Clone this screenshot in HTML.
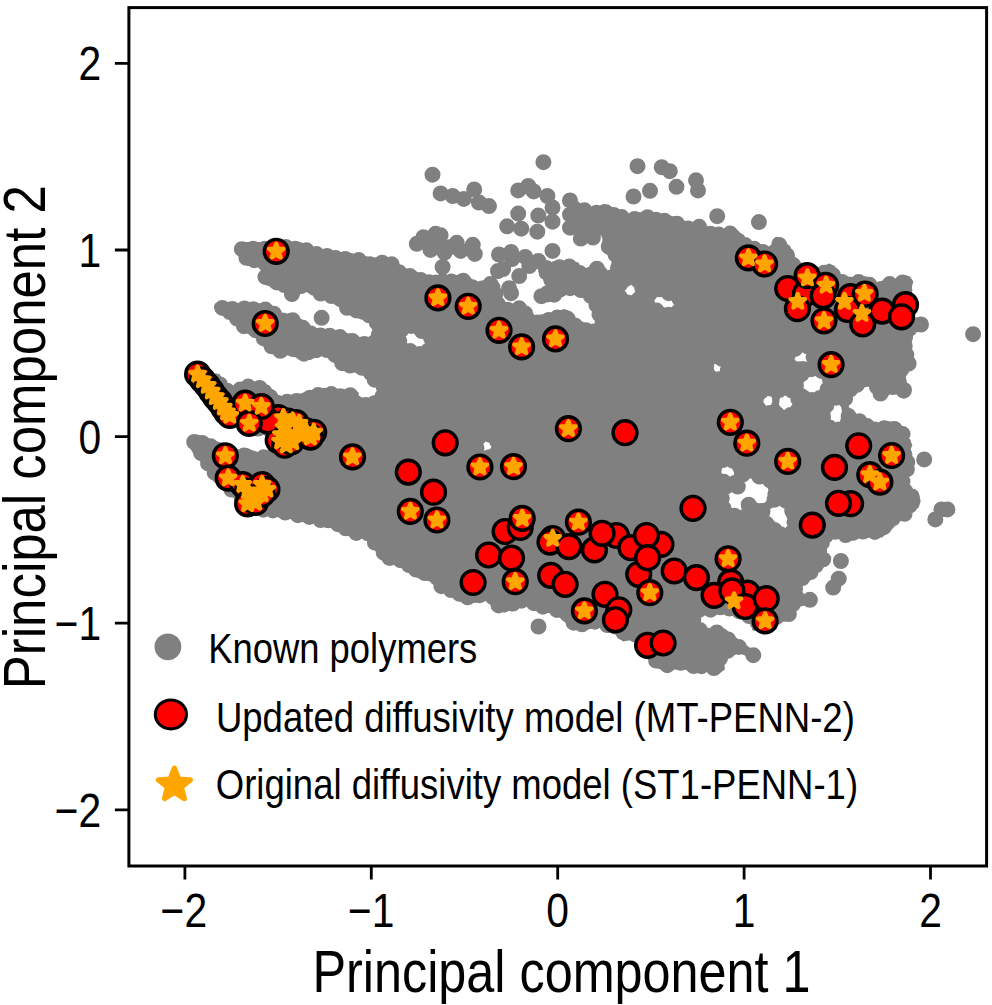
<!DOCTYPE html>
<html lang="en"><head><meta charset="utf-8"><title>Principal component scatter</title>
<style>html,body{margin:0;padding:0;background:#fff}body{width:992px;height:1005px;overflow:hidden}svg{display:block}text{font-family:"Liberation Sans",Arial,sans-serif;fill:#000}</style></head><body>
<svg width="992" height="1005" viewBox="0 0 992 1005">
<rect width="992" height="1005" fill="#fff"/>
<g fill="#808080">
<path fill-rule="evenodd" d="M225.1 382.7 224.2 381.8 219.7 374.3 214.6 373.1 205.4 389.3 205.4 390.7 223.9 415.0 239.5 426.7 251.2 432.5 265.5 434.4 267.9 435.5 271.9 446.1 271.4 449.8 268.6 451.9 262.3 452.2 260.1 453.8 257.7 454.3 253.9 452.8 251.9 450.0 246.8 447.7 240.5 451.2 237.5 451.6 221.5 442.8 198.3 434.8 191.2 437.1 188.5 440.6 188.4 444.2 192.1 451.7 202.1 463.8 212.3 480.0 221.7 489.4 232.0 495.7 240.1 505.7 250.9 512.9 291.3 519.3 331.4 527.3 352.0 537.7 365.3 538.2 367.4 539.8 384.5 564.2 395.5 564.7 408.8 571.4 417.6 577.9 432.2 582.2 434.2 584.3 436.3 591.1 446.4 593.5 457.4 600.1 465.2 604.0 480.2 602.2 486.9 600.7 489.9 603.0 491.8 609.1 504.7 612.8 513.6 608.8 525.8 606.6 534.9 608.9 545.1 612.9 551.0 613.1 563.9 620.0 568.9 628.2 569.8 628.9 583.2 630.8 598.9 626.7 606.3 631.0 616.7 633.2 618.8 635.0 622.4 641.5 632.4 640.0 635.9 641.3 640.6 651.6 649.4 658.7 651.8 666.7 665.3 670.7 683.0 668.7 692.2 672.8 705.3 670.9 718.1 674.6 724.9 669.6 724.3 662.9 725.5 660.1 736.4 653.9 740.0 653.5 749.6 657.5 756.9 655.1 757.2 654.6 756.2 652.0 743.8 643.6 724.7 628.4 715.2 626.7 711.4 629.5 708.5 629.8 707.3 629.4 701.1 624.0 699.3 619.4 700.1 616.1 703.7 613.8 706.1 613.9 710.0 616.6 716.2 613.2 728.0 613.2 741.5 617.7 750.1 623.4 752.0 626.0 752.4 630.2 753.0 630.7 764.1 630.8 767.1 631.5 769.9 629.8 774.6 628.8 776.5 624.4 778.2 622.6 788.9 620.9 794.3 616.5 796.4 609.2 798.1 607.0 808.7 604.4 812.9 600.2 812.9 599.4 809.3 595.7 802.2 594.7 800.3 592.7 799.9 589.5 802.2 584.7 810.4 580.4 815.2 573.7 830.1 562.6 831.4 556.8 826.0 553.6 824.4 550.3 824.9 547.9 827.2 544.2 827.5 541.1 829.0 538.9 831.5 537.8 839.1 537.9 844.2 540.9 851.3 540.0 856.4 537.8 882.1 537.6 893.3 528.0 899.7 519.9 908.5 517.7 912.6 511.8 918.7 507.4 920.7 501.2 919.1 494.7 910.8 489.5 909.0 486.7 909.1 476.6 914.6 468.3 913.1 461.8 909.2 453.2 912.4 445.0 909.1 439.5 906.8 429.7 897.6 422.6 887.2 421.0 878.3 424.4 875.3 424.2 865.6 418.5 853.6 412.5 849.8 408.7 848.7 406.0 851.2 397.0 857.4 392.7 865.0 385.9 867.7 385.9 869.7 387.2 874.6 394.7 882.4 397.8 890.7 392.6 901.1 396.0 907.0 394.7 907.8 394.1 910.1 389.5 910.1 388.1 905.8 382.2 905.1 379.5 907.5 371.2 914.6 367.0 915.2 366.0 915.7 360.5 911.0 352.0 912.1 335.0 914.7 331.8 920.2 331.1 924.3 325.5 921.7 320.6 916.0 319.5 913.4 316.6 914.9 301.6 911.1 289.3 913.4 281.6 910.0 276.4 903.4 274.7 895.4 279.0 887.4 277.6 879.1 282.7 876.5 282.0 869.8 277.2 861.5 275.5 849.8 279.0 839.5 274.8 834.8 265.9 829.3 263.6 828.2 263.7 819.8 268.1 809.6 267.1 799.6 263.0 794.3 256.0 790.1 246.1 783.0 240.7 776.7 236.8 775.7 237.0 772.6 239.5 771.9 245.0 771.3 246.1 769.2 247.8 766.5 248.1 762.3 246.6 754.8 241.2 748.1 241.0 746.1 240.2 739.6 232.1 734.5 227.4 725.4 228.9 711.0 228.8 700.3 222.0 684.7 221.7 675.8 216.7 645.2 210.9 629.7 214.6 617.6 210.6 608.3 204.4 599.7 208.6 582.1 204.8 574.6 198.5 572.6 198.4 572.3 198.9 572.5 227.4 579.2 227.7 582.2 227.0 584.9 227.7 598.2 227.7 601.1 229.2 602.4 231.9 602.4 242.7 604.4 252.2 605.0 253.2 611.0 257.7 611.7 258.8 611.2 268.5 608.3 271.3 605.0 271.1 603.9 270.4 598.7 264.1 598.0 263.7 594.1 263.9 590.8 267.4 586.4 269.7 585.3 269.9 582.2 268.4 578.3 262.6 570.6 260.6 554.2 261.1 549.5 262.5 544.7 260.3 543.8 260.3 539.7 262.5 537.3 267.5 538.5 271.8 546.6 282.9 547.1 286.4 544.4 291.1 537.7 294.4 536.6 297.4 538.4 300.7 544.9 302.7 554.6 301.2 560.8 296.2 566.8 294.8 578.1 294.4 589.4 302.1 593.3 313.0 596.7 320.7 596.5 323.5 594.4 325.9 590.6 326.2 583.8 322.3 576.4 319.3 571.7 312.3 567.9 310.2 564.2 309.1 552.9 312.7 544.7 313.7 534.7 315.8 525.6 310.7 518.9 304.6 511.1 303.5 503.9 303.1 501.1 299.5 501.8 294.4 500.4 288.2 500.3 285.1 497.4 280.8 491.8 278.0 488.9 279.3 483.0 280.2 480.7 282.2 478.0 282.8 475.5 281.9 469.5 276.7 459.1 274.4 450.4 276.2 435.4 274.4 427.8 276.9 415.5 271.1 402.6 268.0 394.5 259.8 382.0 256.8 370.2 257.9 367.3 256.6 351.2 253.1 330.7 251.0 310.6 247.0 300.3 242.0 238.8 242.0 236.8 244.0 237.0 253.0 241.3 261.4 247.9 265.9 257.4 266.7 260.3 268.4 261.2 271.5 260.0 277.5 261.1 283.5 283.1 291.1 285.0 293.3 286.3 297.9 291.0 300.7 297.2 299.2 300.7 293.3 304.5 291.6 310.2 293.4 316.3 297.3 337.7 303.2 339.6 305.0 343.3 311.8 360.1 319.3 368.6 321.0 370.8 322.2 372.2 325.1 372.0 336.3 369.8 339.1 366.7 339.6 350.9 333.7 334.9 330.7 329.0 328.8 314.6 329.4 305.7 321.2 289.6 313.2 288.8 313.0 284.6 314.8 281.5 314.3 277.1 308.8 269.5 303.5 218.9 302.5 216.0 303.0 214.9 303.8 213.8 307.0 215.4 311.7 231.6 319.6 238.2 328.8 256.1 338.4 266.7 350.6 279.2 355.8 291.5 355.2 300.2 360.0 310.5 359.9 319.7 355.5 323.0 355.5 330.7 358.6 339.0 368.4 351.8 372.1 364.3 374.6 368.4 381.8 370.9 383.4 372.7 385.7 376.7 386.9 378.3 390.9 376.9 393.9 372.5 396.5 370.6 398.3 363.2 399.9 360.1 398.6 358.8 396.7 358.7 392.8 354.4 388.8 341.3 389.6 323.7 387.7 315.7 390.5 303.6 392.6 291.6 396.5 279.7 396.6 276.6 395.1 269.3 385.3 256.5 381.6 245.1 380.7 232.8 386.2ZM832.2 423.5 829.7 421.7 828.9 418.9 832.1 407.0 834.5 404.1 838.1 403.8 841.2 407.0 843.3 420.4 841.4 422.9 837.5 424.6ZM804.6 391.3 802.8 389.2 802.5 386.8 804.0 380.6 805.9 378.2 816.1 374.4 818.6 375.2 823.4 379.0 823.8 382.8 820.7 390.4 819.1 392.2 810.5 394.4ZM798.1 364.2 795.4 363.6 793.5 361.6 792.9 359.1 793.8 356.4 801.4 352.1 803.9 352.0 805.7 352.8 808.4 358.1 807.6 361.8 804.7 363.6ZM784.2 411.1 781.4 409.2 779.0 404.3 779.8 398.2 781.5 395.7 784.4 395.0 790.1 396.3 792.1 398.1 793.9 404.5 792.6 408.1 791.6 409.0 785.3 411.1ZM774.8 521.5 769.5 519.1 768.6 518.2 767.8 516.0 767.9 512.2 769.1 509.8 770.0 509.0 777.2 505.6 784.1 506.9 785.8 508.5 786.5 510.4 785.8 515.5 789.2 522.6 788.8 526.2 786.2 528.5 783.6 529.2 781.1 528.9ZM762.2 404.3 760.7 400.8 762.2 397.3 766.8 394.7 769.0 394.9 771.1 396.3 772.1 398.6 772.2 402.5 770.5 405.6 768.2 406.7 765.5 406.6ZM727.5 496.8 727.9 494.0 729.6 492.1 737.8 489.2 743.7 480.0 749.8 477.4 753.5 478.2 758.7 483.0 767.9 485.0 769.6 486.1 770.7 488.4 770.4 494.4 766.0 501.5 764.0 503.1 755.4 503.3 754.3 502.6 750.6 498.2 746.8 499.3 745.1 502.1 746.8 506.3 746.9 507.7 745.6 510.4 742.8 512.1 740.0 511.7 736.2 509.3 732.1 508.6 730.2 507.4 729.0 505.2ZM722.4 476.5 719.9 474.6 719.2 471.2 719.6 470.2 723.2 466.0 725.6 464.9 729.3 464.8 732.5 466.4 733.1 467.6 734.1 473.7 732.5 477.2 728.8 478.3ZM712.2 371.0 711.7 366.5 713.5 363.4 714.6 362.9 718.1 362.9 720.2 364.7 721.5 367.5 721.5 370.8 720.9 371.8 718.5 373.6 714.7 373.4ZM654.5 302.2 653.1 299.4 653.6 296.5 655.7 294.6 658.6 294.2 673.0 300.4 674.9 302.6 675.2 305.3 672.9 308.5 669.5 309.2 658.1 305.4ZM630.2 295.9 627.4 295.8 625.5 294.5 624.5 290.3 626.9 285.6 629.3 283.8 632.3 283.5 635.5 285.7 636.1 289.3 633.9 294.5ZM492.6 446.5 489.1 451.7 487.8 452.6 485.4 452.8 483.4 451.8 481.7 449.1 483.2 442.8 486.4 440.4 490.1 440.9 491.0 441.5 492.7 444.0ZM405.9 341.8 404.2 336.8 404.2 335.6 405.7 333.1 409.5 331.6 411.9 332.0 420.4 337.6 424.1 338.7 425.7 340.9 426.0 342.0 425.6 344.9 423.6 347.2 419.0 349.0 416.9 348.8 409.4 345.9Z"/>
<path d="M313.6 317.8a8 8 0 1 0 16 0a8 8 0 1 0 -16 0ZM535.4 162.2a8 8 0 1 0 16 0a8 8 0 1 0 -16 0ZM424.5 174.7a8 8 0 1 0 16 0a8 8 0 1 0 -16 0ZM432.6 193.4a8 8 0 1 0 16 0a8 8 0 1 0 -16 0ZM444.7 196.0a8 8 0 1 0 16 0a8 8 0 1 0 -16 0ZM455.8 198.9a8 8 0 1 0 16 0a8 8 0 1 0 -16 0ZM466.2 189.4a8 8 0 1 0 16 0a8 8 0 1 0 -16 0ZM470.9 202.5a8 8 0 1 0 16 0a8 8 0 1 0 -16 0ZM481.0 206.1a8 8 0 1 0 16 0a8 8 0 1 0 -16 0ZM510.2 190.4a8 8 0 1 0 16 0a8 8 0 1 0 -16 0ZM520.3 186.0a8 8 0 1 0 16 0a8 8 0 1 0 -16 0ZM525.7 191.4a8 8 0 1 0 16 0a8 8 0 1 0 -16 0ZM539.4 196.0a8 8 0 1 0 16 0a8 8 0 1 0 -16 0ZM544.5 207.5a8 8 0 1 0 16 0a8 8 0 1 0 -16 0ZM510.2 213.6a8 8 0 1 0 16 0a8 8 0 1 0 -16 0ZM530.3 215.6a8 8 0 1 0 16 0a8 8 0 1 0 -16 0ZM544.5 221.7a8 8 0 1 0 16 0a8 8 0 1 0 -16 0ZM499.1 226.3a8 8 0 1 0 16 0a8 8 0 1 0 -16 0ZM513.2 228.7a8 8 0 1 0 16 0a8 8 0 1 0 -16 0ZM529.3 231.7a8 8 0 1 0 16 0a8 8 0 1 0 -16 0ZM562.0 200.5a8 8 0 1 0 16 0a8 8 0 1 0 -16 0ZM562.0 214.6a8 8 0 1 0 16 0a8 8 0 1 0 -16 0ZM562.0 227.7a8 8 0 1 0 16 0a8 8 0 1 0 -16 0ZM408.8 243.8a8 8 0 1 0 16 0a8 8 0 1 0 -16 0ZM415.4 237.2a8 8 0 1 0 16 0a8 8 0 1 0 -16 0ZM427.5 233.8a8 8 0 1 0 16 0a8 8 0 1 0 -16 0ZM432.6 235.2a8 8 0 1 0 16 0a8 8 0 1 0 -16 0ZM422.5 249.9a8 8 0 1 0 16 0a8 8 0 1 0 -16 0ZM436.6 252.5a8 8 0 1 0 16 0a8 8 0 1 0 -16 0ZM448.7 242.8a8 8 0 1 0 16 0a8 8 0 1 0 -16 0ZM452.7 250.9a8 8 0 1 0 16 0a8 8 0 1 0 -16 0ZM464.8 244.8a8 8 0 1 0 16 0a8 8 0 1 0 -16 0ZM466.8 253.9a8 8 0 1 0 16 0a8 8 0 1 0 -16 0ZM434.6 267.0a8 8 0 1 0 16 0a8 8 0 1 0 -16 0ZM422.5 241.8a8 8 0 1 0 16 0a8 8 0 1 0 -16 0ZM442.6 246.9a8 8 0 1 0 16 0a8 8 0 1 0 -16 0ZM431.6 243.8a8 8 0 1 0 16 0a8 8 0 1 0 -16 0ZM491.0 254.5a8 8 0 1 0 16 0a8 8 0 1 0 -16 0ZM503.1 251.9a8 8 0 1 0 16 0a8 8 0 1 0 -16 0ZM504.1 259.0a8 8 0 1 0 16 0a8 8 0 1 0 -16 0ZM517.2 256.9a8 8 0 1 0 16 0a8 8 0 1 0 -16 0ZM530.3 261.0a8 8 0 1 0 16 0a8 8 0 1 0 -16 0ZM544.5 250.9a8 8 0 1 0 16 0a8 8 0 1 0 -16 0ZM490.0 271.0a8 8 0 1 0 16 0a8 8 0 1 0 -16 0ZM495.1 269.0a8 8 0 1 0 16 0a8 8 0 1 0 -16 0ZM511.2 276.1a8 8 0 1 0 16 0a8 8 0 1 0 -16 0ZM521.3 266.0a8 8 0 1 0 16 0a8 8 0 1 0 -16 0ZM501.1 288.2a8 8 0 1 0 16 0a8 8 0 1 0 -16 0ZM503.1 293.2a8 8 0 1 0 16 0a8 8 0 1 0 -16 0ZM533.4 296.2a8 8 0 1 0 16 0a8 8 0 1 0 -16 0ZM539.4 293.2a8 8 0 1 0 16 0a8 8 0 1 0 -16 0ZM511.2 308.3a8 8 0 1 0 16 0a8 8 0 1 0 -16 0ZM517.2 313.4a8 8 0 1 0 16 0a8 8 0 1 0 -16 0ZM629.5 166.2a8 8 0 1 0 16 0a8 8 0 1 0 -16 0ZM653.7 167.2a8 8 0 1 0 16 0a8 8 0 1 0 -16 0ZM661.8 171.2a8 8 0 1 0 16 0a8 8 0 1 0 -16 0ZM688.0 180.3a8 8 0 1 0 16 0a8 8 0 1 0 -16 0ZM690.0 190.4a8 8 0 1 0 16 0a8 8 0 1 0 -16 0ZM668.5 186.8a8 8 0 1 0 16 0a8 8 0 1 0 -16 0ZM642.0 190.8a8 8 0 1 0 16 0a8 8 0 1 0 -16 0ZM625.5 196.5a8 8 0 1 0 16 0a8 8 0 1 0 -16 0ZM709.2 216.2a8 8 0 1 0 16 0a8 8 0 1 0 -16 0ZM750.9 222.1a8 8 0 1 0 16 0a8 8 0 1 0 -16 0ZM965.1 334.2a8 8 0 1 0 16 0a8 8 0 1 0 -16 0ZM913.0 324.5a8 8 0 1 0 16 0a8 8 0 1 0 -16 0ZM872.5 393.5a8 8 0 1 0 16 0a8 8 0 1 0 -16 0ZM896.0 390.0a8 8 0 1 0 16 0a8 8 0 1 0 -16 0ZM916.2 459.4a8 8 0 1 0 16 0a8 8 0 1 0 -16 0ZM933.4 509.4a8 8 0 1 0 16 0a8 8 0 1 0 -16 0ZM939.4 509.4a8 8 0 1 0 16 0a8 8 0 1 0 -16 0ZM927.3 519.4a8 8 0 1 0 16 0a8 8 0 1 0 -16 0ZM530.5 626.5a8 8 0 1 0 16 0a8 8 0 1 0 -16 0ZM832.9 561.0a8 8 0 1 0 16 0a8 8 0 1 0 -16 0ZM830.7 578.7a8 8 0 1 0 16 0a8 8 0 1 0 -16 0ZM825.2 587.6a8 8 0 1 0 16 0a8 8 0 1 0 -16 0ZM745.3 655.2a8 8 0 1 0 16 0a8 8 0 1 0 -16 0ZM801.9 599.8a8 8 0 1 0 16 0a8 8 0 1 0 -16 0ZM588.9 268.7a8 8 0 1 0 16 0a8 8 0 1 0 -16 0ZM576.8 232.8a8 8 0 1 0 16 0a8 8 0 1 0 -16 0ZM586.9 230.4a8 8 0 1 0 16 0a8 8 0 1 0 -16 0ZM567.8 225.4a8 8 0 1 0 16 0a8 8 0 1 0 -16 0ZM581.9 220.3a8 8 0 1 0 16 0a8 8 0 1 0 -16 0ZM572.8 238.5a8 8 0 1 0 16 0a8 8 0 1 0 -16 0ZM584.9 237.5a8 8 0 1 0 16 0a8 8 0 1 0 -16 0ZM740.7 504.7a8 8 0 1 0 16 0a8 8 0 1 0 -16 0ZM729.8 486.6a8 8 0 1 0 16 0a8 8 0 1 0 -16 0ZM784.2 510.8a8 8 0 1 0 16 0a8 8 0 1 0 -16 0ZM204.3 391.4a8 8 0 1 0 16 0a8 8 0 1 0 -16 0ZM210.5 397.9a8 8 0 1 0 16 0a8 8 0 1 0 -16 0ZM215.8 404.2a8 8 0 1 0 16 0a8 8 0 1 0 -16 0ZM222.0 412.1a8 8 0 1 0 16 0a8 8 0 1 0 -16 0ZM232.0 418.6a8 8 0 1 0 16 0a8 8 0 1 0 -16 0ZM239.9 425.1a8 8 0 1 0 16 0a8 8 0 1 0 -16 0ZM250.1 428.6a8 8 0 1 0 16 0a8 8 0 1 0 -16 0ZM259.7 428.4a8 8 0 1 0 16 0a8 8 0 1 0 -16 0ZM265.2 433.9a8 8 0 1 0 16 0a8 8 0 1 0 -16 0ZM269.2 446.4a8 8 0 1 0 16 0a8 8 0 1 0 -16 0ZM264.6 456.2a8 8 0 1 0 16 0a8 8 0 1 0 -16 0ZM255.6 457.3a8 8 0 1 0 16 0a8 8 0 1 0 -16 0ZM245.1 458.6a8 8 0 1 0 16 0a8 8 0 1 0 -16 0ZM236.0 455.5a8 8 0 1 0 16 0a8 8 0 1 0 -16 0ZM224.7 454.9a8 8 0 1 0 16 0a8 8 0 1 0 -16 0ZM214.4 450.7a8 8 0 1 0 16 0a8 8 0 1 0 -16 0ZM202.7 446.3a8 8 0 1 0 16 0a8 8 0 1 0 -16 0ZM194.3 442.9a8 8 0 1 0 16 0a8 8 0 1 0 -16 0ZM186.2 442.0a8 8 0 1 0 16 0a8 8 0 1 0 -16 0ZM193.1 453.0a8 8 0 1 0 16 0a8 8 0 1 0 -16 0ZM200.1 463.4a8 8 0 1 0 16 0a8 8 0 1 0 -16 0ZM206.7 472.6a8 8 0 1 0 16 0a8 8 0 1 0 -16 0ZM215.7 482.2a8 8 0 1 0 16 0a8 8 0 1 0 -16 0ZM223.5 489.5a8 8 0 1 0 16 0a8 8 0 1 0 -16 0ZM233.7 497.8a8 8 0 1 0 16 0a8 8 0 1 0 -16 0ZM239.6 504.2a8 8 0 1 0 16 0a8 8 0 1 0 -16 0ZM247.3 507.1a8 8 0 1 0 16 0a8 8 0 1 0 -16 0ZM255.4 509.7a8 8 0 1 0 16 0a8 8 0 1 0 -16 0ZM264.9 510.4a8 8 0 1 0 16 0a8 8 0 1 0 -16 0ZM277.2 512.5a8 8 0 1 0 16 0a8 8 0 1 0 -16 0ZM289.9 515.2a8 8 0 1 0 16 0a8 8 0 1 0 -16 0ZM301.3 516.9a8 8 0 1 0 16 0a8 8 0 1 0 -16 0ZM312.6 520.0a8 8 0 1 0 16 0a8 8 0 1 0 -16 0ZM320.2 520.3a8 8 0 1 0 16 0a8 8 0 1 0 -16 0ZM329.9 524.2a8 8 0 1 0 16 0a8 8 0 1 0 -16 0ZM337.7 528.3a8 8 0 1 0 16 0a8 8 0 1 0 -16 0ZM348.3 532.9a8 8 0 1 0 16 0a8 8 0 1 0 -16 0ZM360.0 533.3a8 8 0 1 0 16 0a8 8 0 1 0 -16 0ZM366.9 542.6a8 8 0 1 0 16 0a8 8 0 1 0 -16 0ZM375.7 552.5a8 8 0 1 0 16 0a8 8 0 1 0 -16 0ZM381.8 557.9a8 8 0 1 0 16 0a8 8 0 1 0 -16 0ZM392.3 560.2a8 8 0 1 0 16 0a8 8 0 1 0 -16 0ZM401.0 565.0a8 8 0 1 0 16 0a8 8 0 1 0 -16 0ZM408.0 569.5a8 8 0 1 0 16 0a8 8 0 1 0 -16 0ZM416.7 573.0a8 8 0 1 0 16 0a8 8 0 1 0 -16 0ZM429.1 577.8a8 8 0 1 0 16 0a8 8 0 1 0 -16 0ZM433.4 586.2a8 8 0 1 0 16 0a8 8 0 1 0 -16 0ZM443.1 590.1a8 8 0 1 0 16 0a8 8 0 1 0 -16 0ZM451.6 593.8a8 8 0 1 0 16 0a8 8 0 1 0 -16 0ZM459.6 597.3a8 8 0 1 0 16 0a8 8 0 1 0 -16 0ZM471.7 595.2a8 8 0 1 0 16 0a8 8 0 1 0 -16 0ZM484.8 597.0a8 8 0 1 0 16 0a8 8 0 1 0 -16 0ZM490.7 605.4a8 8 0 1 0 16 0a8 8 0 1 0 -16 0ZM504.9 603.6a8 8 0 1 0 16 0a8 8 0 1 0 -16 0ZM513.5 600.7a8 8 0 1 0 16 0a8 8 0 1 0 -16 0ZM525.9 603.2a8 8 0 1 0 16 0a8 8 0 1 0 -16 0ZM534.9 606.7a8 8 0 1 0 16 0a8 8 0 1 0 -16 0ZM548.9 609.9a8 8 0 1 0 16 0a8 8 0 1 0 -16 0ZM559.7 614.7a8 8 0 1 0 16 0a8 8 0 1 0 -16 0ZM565.6 622.7a8 8 0 1 0 16 0a8 8 0 1 0 -16 0ZM574.0 624.3a8 8 0 1 0 16 0a8 8 0 1 0 -16 0ZM586.9 621.7a8 8 0 1 0 16 0a8 8 0 1 0 -16 0ZM599.2 625.0a8 8 0 1 0 16 0a8 8 0 1 0 -16 0ZM607.5 626.5a8 8 0 1 0 16 0a8 8 0 1 0 -16 0ZM615.2 632.3a8 8 0 1 0 16 0a8 8 0 1 0 -16 0ZM627.4 634.5a8 8 0 1 0 16 0a8 8 0 1 0 -16 0ZM635.4 641.3a8 8 0 1 0 16 0a8 8 0 1 0 -16 0ZM642.5 651.9a8 8 0 1 0 16 0a8 8 0 1 0 -16 0ZM648.1 660.6a8 8 0 1 0 16 0a8 8 0 1 0 -16 0ZM659.3 665.2a8 8 0 1 0 16 0a8 8 0 1 0 -16 0ZM672.7 662.8a8 8 0 1 0 16 0a8 8 0 1 0 -16 0ZM685.7 666.1a8 8 0 1 0 16 0a8 8 0 1 0 -16 0ZM693.6 666.2a8 8 0 1 0 16 0a8 8 0 1 0 -16 0ZM705.8 668.1a8 8 0 1 0 16 0a8 8 0 1 0 -16 0ZM712.1 658.3a8 8 0 1 0 16 0a8 8 0 1 0 -16 0ZM719.6 650.8a8 8 0 1 0 16 0a8 8 0 1 0 -16 0ZM730.8 646.9a8 8 0 1 0 16 0a8 8 0 1 0 -16 0ZM720.1 639.4a8 8 0 1 0 16 0a8 8 0 1 0 -16 0ZM708.8 632.5a8 8 0 1 0 16 0a8 8 0 1 0 -16 0ZM699.7 635.7a8 8 0 1 0 16 0a8 8 0 1 0 -16 0ZM691.7 630.0a8 8 0 1 0 16 0a8 8 0 1 0 -16 0ZM685.3 619.7a8 8 0 1 0 16 0a8 8 0 1 0 -16 0ZM691.2 609.9a8 8 0 1 0 16 0a8 8 0 1 0 -16 0ZM702.6 609.7a8 8 0 1 0 16 0a8 8 0 1 0 -16 0ZM712.2 607.3a8 8 0 1 0 16 0a8 8 0 1 0 -16 0ZM721.5 608.5a8 8 0 1 0 16 0a8 8 0 1 0 -16 0ZM731.4 611.4a8 8 0 1 0 16 0a8 8 0 1 0 -16 0ZM741.1 616.0a8 8 0 1 0 16 0a8 8 0 1 0 -16 0ZM749.9 622.9a8 8 0 1 0 16 0a8 8 0 1 0 -16 0ZM759.0 624.1a8 8 0 1 0 16 0a8 8 0 1 0 -16 0ZM768.4 617.1a8 8 0 1 0 16 0a8 8 0 1 0 -16 0ZM780.9 614.0a8 8 0 1 0 16 0a8 8 0 1 0 -16 0ZM785.0 604.0a8 8 0 1 0 16 0a8 8 0 1 0 -16 0ZM789.5 598.4a8 8 0 1 0 16 0a8 8 0 1 0 -16 0ZM787.1 589.0a8 8 0 1 0 16 0a8 8 0 1 0 -16 0ZM794.3 578.1a8 8 0 1 0 16 0a8 8 0 1 0 -16 0ZM802.6 572.0a8 8 0 1 0 16 0a8 8 0 1 0 -16 0ZM807.9 565.3a8 8 0 1 0 16 0a8 8 0 1 0 -16 0ZM815.2 559.3a8 8 0 1 0 16 0a8 8 0 1 0 -16 0ZM811.2 551.8a8 8 0 1 0 16 0a8 8 0 1 0 -16 0ZM813.9 542.7a8 8 0 1 0 16 0a8 8 0 1 0 -16 0ZM818.1 535.3a8 8 0 1 0 16 0a8 8 0 1 0 -16 0ZM827.3 531.8a8 8 0 1 0 16 0a8 8 0 1 0 -16 0ZM837.7 535.1a8 8 0 1 0 16 0a8 8 0 1 0 -16 0ZM845.4 532.7a8 8 0 1 0 16 0a8 8 0 1 0 -16 0ZM855.0 531.6a8 8 0 1 0 16 0a8 8 0 1 0 -16 0ZM866.8 531.9a8 8 0 1 0 16 0a8 8 0 1 0 -16 0ZM875.9 527.2a8 8 0 1 0 16 0a8 8 0 1 0 -16 0ZM884.9 518.3a8 8 0 1 0 16 0a8 8 0 1 0 -16 0ZM896.6 513.8a8 8 0 1 0 16 0a8 8 0 1 0 -16 0ZM901.6 505.5a8 8 0 1 0 16 0a8 8 0 1 0 -16 0ZM903.7 496.5a8 8 0 1 0 16 0a8 8 0 1 0 -16 0ZM897.1 491.0a8 8 0 1 0 16 0a8 8 0 1 0 -16 0ZM894.5 481.6a8 8 0 1 0 16 0a8 8 0 1 0 -16 0ZM898.8 469.4a8 8 0 1 0 16 0a8 8 0 1 0 -16 0ZM899.3 462.2a8 8 0 1 0 16 0a8 8 0 1 0 -16 0ZM896.4 454.5a8 8 0 1 0 16 0a8 8 0 1 0 -16 0ZM895.4 443.4a8 8 0 1 0 16 0a8 8 0 1 0 -16 0ZM894.6 434.1a8 8 0 1 0 16 0a8 8 0 1 0 -16 0ZM886.5 428.9a8 8 0 1 0 16 0a8 8 0 1 0 -16 0ZM876.1 428.2a8 8 0 1 0 16 0a8 8 0 1 0 -16 0ZM866.7 429.5a8 8 0 1 0 16 0a8 8 0 1 0 -16 0ZM859.1 426.1a8 8 0 1 0 16 0a8 8 0 1 0 -16 0ZM851.4 421.2a8 8 0 1 0 16 0a8 8 0 1 0 -16 0ZM840.6 416.1a8 8 0 1 0 16 0a8 8 0 1 0 -16 0ZM839.9 422.2a8 8 0 1 0 16 0a8 8 0 1 0 -16 0ZM831.1 429.6a8 8 0 1 0 16 0a8 8 0 1 0 -16 0ZM821.4 427.4a8 8 0 1 0 16 0a8 8 0 1 0 -16 0ZM815.0 417.6a8 8 0 1 0 16 0a8 8 0 1 0 -16 0ZM818.3 405.4a8 8 0 1 0 16 0a8 8 0 1 0 -16 0ZM828.1 397.7a8 8 0 1 0 16 0a8 8 0 1 0 -16 0ZM837.1 398.6a8 8 0 1 0 16 0a8 8 0 1 0 -16 0ZM842.4 389.3a8 8 0 1 0 16 0a8 8 0 1 0 -16 0ZM848.9 384.9a8 8 0 1 0 16 0a8 8 0 1 0 -16 0ZM857.4 379.2a8 8 0 1 0 16 0a8 8 0 1 0 -16 0ZM868.9 386.8a8 8 0 1 0 16 0a8 8 0 1 0 -16 0ZM875.1 389.8a8 8 0 1 0 16 0a8 8 0 1 0 -16 0ZM884.8 387.1a8 8 0 1 0 16 0a8 8 0 1 0 -16 0ZM895.7 390.7a8 8 0 1 0 16 0a8 8 0 1 0 -16 0ZM890.8 381.3a8 8 0 1 0 16 0a8 8 0 1 0 -16 0ZM893.2 369.6a8 8 0 1 0 16 0a8 8 0 1 0 -16 0ZM900.6 363.7a8 8 0 1 0 16 0a8 8 0 1 0 -16 0ZM898.3 354.7a8 8 0 1 0 16 0a8 8 0 1 0 -16 0ZM896.7 345.9a8 8 0 1 0 16 0a8 8 0 1 0 -16 0ZM897.1 337.0a8 8 0 1 0 16 0a8 8 0 1 0 -16 0ZM901.7 328.7a8 8 0 1 0 16 0a8 8 0 1 0 -16 0ZM905.7 325.1a8 8 0 1 0 16 0a8 8 0 1 0 -16 0ZM899.5 313.7a8 8 0 1 0 16 0a8 8 0 1 0 -16 0ZM899.8 301.2a8 8 0 1 0 16 0a8 8 0 1 0 -16 0ZM896.4 290.2a8 8 0 1 0 16 0a8 8 0 1 0 -16 0ZM894.5 282.4a8 8 0 1 0 16 0a8 8 0 1 0 -16 0ZM881.7 284.1a8 8 0 1 0 16 0a8 8 0 1 0 -16 0ZM873.4 288.9a8 8 0 1 0 16 0a8 8 0 1 0 -16 0ZM861.5 284.8a8 8 0 1 0 16 0a8 8 0 1 0 -16 0ZM850.6 282.1a8 8 0 1 0 16 0a8 8 0 1 0 -16 0ZM841.2 284.6a8 8 0 1 0 16 0a8 8 0 1 0 -16 0ZM834.1 282.0a8 8 0 1 0 16 0a8 8 0 1 0 -16 0ZM825.0 275.2a8 8 0 1 0 16 0a8 8 0 1 0 -16 0ZM816.2 272.7a8 8 0 1 0 16 0a8 8 0 1 0 -16 0ZM805.4 273.4a8 8 0 1 0 16 0a8 8 0 1 0 -16 0ZM793.2 270.8a8 8 0 1 0 16 0a8 8 0 1 0 -16 0ZM785.1 264.9a8 8 0 1 0 16 0a8 8 0 1 0 -16 0ZM779.0 255.5a8 8 0 1 0 16 0a8 8 0 1 0 -16 0ZM771.2 245.0a8 8 0 1 0 16 0a8 8 0 1 0 -16 0ZM765.9 252.5a8 8 0 1 0 16 0a8 8 0 1 0 -16 0ZM754.8 252.0a8 8 0 1 0 16 0a8 8 0 1 0 -16 0ZM746.1 248.7a8 8 0 1 0 16 0a8 8 0 1 0 -16 0ZM737.2 245.1a8 8 0 1 0 16 0a8 8 0 1 0 -16 0ZM730.2 240.7a8 8 0 1 0 16 0a8 8 0 1 0 -16 0ZM722.1 233.6a8 8 0 1 0 16 0a8 8 0 1 0 -16 0ZM710.7 234.6a8 8 0 1 0 16 0a8 8 0 1 0 -16 0ZM702.5 233.8a8 8 0 1 0 16 0a8 8 0 1 0 -16 0ZM691.1 226.8a8 8 0 1 0 16 0a8 8 0 1 0 -16 0ZM680.0 228.6a8 8 0 1 0 16 0a8 8 0 1 0 -16 0ZM669.0 223.7a8 8 0 1 0 16 0a8 8 0 1 0 -16 0ZM656.4 220.7a8 8 0 1 0 16 0a8 8 0 1 0 -16 0ZM647.9 219.7a8 8 0 1 0 16 0a8 8 0 1 0 -16 0ZM639.5 217.2a8 8 0 1 0 16 0a8 8 0 1 0 -16 0ZM626.7 219.0a8 8 0 1 0 16 0a8 8 0 1 0 -16 0ZM613.7 217.1a8 8 0 1 0 16 0a8 8 0 1 0 -16 0ZM605.8 215.0a8 8 0 1 0 16 0a8 8 0 1 0 -16 0ZM596.7 212.1a8 8 0 1 0 16 0a8 8 0 1 0 -16 0ZM588.5 212.7a8 8 0 1 0 16 0a8 8 0 1 0 -16 0ZM576.5 210.3a8 8 0 1 0 16 0a8 8 0 1 0 -16 0ZM570.6 217.1a8 8 0 1 0 16 0a8 8 0 1 0 -16 0ZM574.3 221.0a8 8 0 1 0 16 0a8 8 0 1 0 -16 0ZM588.1 221.6a8 8 0 1 0 16 0a8 8 0 1 0 -16 0ZM597.1 224.6a8 8 0 1 0 16 0a8 8 0 1 0 -16 0ZM600.9 233.4a8 8 0 1 0 16 0a8 8 0 1 0 -16 0ZM600.7 246.5a8 8 0 1 0 16 0a8 8 0 1 0 -16 0ZM607.6 254.6a8 8 0 1 0 16 0a8 8 0 1 0 -16 0ZM609.9 268.5a8 8 0 1 0 16 0a8 8 0 1 0 -16 0ZM603.2 277.6a8 8 0 1 0 16 0a8 8 0 1 0 -16 0ZM592.3 273.7a8 8 0 1 0 16 0a8 8 0 1 0 -16 0ZM582.9 274.4a8 8 0 1 0 16 0a8 8 0 1 0 -16 0ZM571.5 273.0a8 8 0 1 0 16 0a8 8 0 1 0 -16 0ZM561.2 266.4a8 8 0 1 0 16 0a8 8 0 1 0 -16 0ZM551.4 267.2a8 8 0 1 0 16 0a8 8 0 1 0 -16 0ZM538.2 268.0a8 8 0 1 0 16 0a8 8 0 1 0 -16 0ZM538.6 272.6a8 8 0 1 0 16 0a8 8 0 1 0 -16 0ZM543.2 279.8a8 8 0 1 0 16 0a8 8 0 1 0 -16 0ZM542.3 292.1a8 8 0 1 0 16 0a8 8 0 1 0 -16 0ZM546.2 294.7a8 8 0 1 0 16 0a8 8 0 1 0 -16 0ZM552.4 289.4a8 8 0 1 0 16 0a8 8 0 1 0 -16 0ZM562.3 288.2a8 8 0 1 0 16 0a8 8 0 1 0 -16 0ZM572.9 290.0a8 8 0 1 0 16 0a8 8 0 1 0 -16 0ZM582.8 295.8a8 8 0 1 0 16 0a8 8 0 1 0 -16 0ZM588.4 304.8a8 8 0 1 0 16 0a8 8 0 1 0 -16 0ZM591.4 314.3a8 8 0 1 0 16 0a8 8 0 1 0 -16 0ZM594.6 322.2a8 8 0 1 0 16 0a8 8 0 1 0 -16 0ZM587.0 331.2a8 8 0 1 0 16 0a8 8 0 1 0 -16 0ZM578.0 330.3a8 8 0 1 0 16 0a8 8 0 1 0 -16 0ZM567.0 325.4a8 8 0 1 0 16 0a8 8 0 1 0 -16 0ZM559.7 318.8a8 8 0 1 0 16 0a8 8 0 1 0 -16 0ZM549.3 317.5a8 8 0 1 0 16 0a8 8 0 1 0 -16 0ZM540.8 319.9a8 8 0 1 0 16 0a8 8 0 1 0 -16 0ZM529.4 322.4a8 8 0 1 0 16 0a8 8 0 1 0 -16 0ZM518.9 318.0a8 8 0 1 0 16 0a8 8 0 1 0 -16 0ZM511.0 313.1a8 8 0 1 0 16 0a8 8 0 1 0 -16 0ZM499.7 309.7a8 8 0 1 0 16 0a8 8 0 1 0 -16 0ZM490.1 304.3a8 8 0 1 0 16 0a8 8 0 1 0 -16 0ZM487.2 294.5a8 8 0 1 0 16 0a8 8 0 1 0 -16 0ZM482.4 284.1a8 8 0 1 0 16 0a8 8 0 1 0 -16 0ZM474.0 288.4a8 8 0 1 0 16 0a8 8 0 1 0 -16 0ZM464.2 287.2a8 8 0 1 0 16 0a8 8 0 1 0 -16 0ZM455.3 280.8a8 8 0 1 0 16 0a8 8 0 1 0 -16 0ZM443.3 281.4a8 8 0 1 0 16 0a8 8 0 1 0 -16 0ZM434.5 281.3a8 8 0 1 0 16 0a8 8 0 1 0 -16 0ZM421.0 282.2a8 8 0 1 0 16 0a8 8 0 1 0 -16 0ZM412.9 280.1a8 8 0 1 0 16 0a8 8 0 1 0 -16 0ZM401.8 275.9a8 8 0 1 0 16 0a8 8 0 1 0 -16 0ZM391.2 272.3a8 8 0 1 0 16 0a8 8 0 1 0 -16 0ZM383.7 264.3a8 8 0 1 0 16 0a8 8 0 1 0 -16 0ZM374.1 262.7a8 8 0 1 0 16 0a8 8 0 1 0 -16 0ZM361.9 264.3a8 8 0 1 0 16 0a8 8 0 1 0 -16 0ZM350.8 260.1a8 8 0 1 0 16 0a8 8 0 1 0 -16 0ZM337.3 259.0a8 8 0 1 0 16 0a8 8 0 1 0 -16 0ZM327.5 257.9a8 8 0 1 0 16 0a8 8 0 1 0 -16 0ZM319.1 256.0a8 8 0 1 0 16 0a8 8 0 1 0 -16 0ZM308.4 254.0a8 8 0 1 0 16 0a8 8 0 1 0 -16 0ZM298.5 250.3a8 8 0 1 0 16 0a8 8 0 1 0 -16 0ZM287.3 248.8a8 8 0 1 0 16 0a8 8 0 1 0 -16 0ZM277.8 247.0a8 8 0 1 0 16 0a8 8 0 1 0 -16 0ZM269.0 248.6a8 8 0 1 0 16 0a8 8 0 1 0 -16 0ZM257.0 248.7a8 8 0 1 0 16 0a8 8 0 1 0 -16 0ZM245.3 248.7a8 8 0 1 0 16 0a8 8 0 1 0 -16 0ZM233.8 249.2a8 8 0 1 0 16 0a8 8 0 1 0 -16 0ZM238.4 257.8a8 8 0 1 0 16 0a8 8 0 1 0 -16 0ZM246.3 260.2a8 8 0 1 0 16 0a8 8 0 1 0 -16 0ZM257.4 263.7a8 8 0 1 0 16 0a8 8 0 1 0 -16 0ZM257.4 276.8a8 8 0 1 0 16 0a8 8 0 1 0 -16 0ZM268.7 282.4a8 8 0 1 0 16 0a8 8 0 1 0 -16 0ZM276.3 285.1a8 8 0 1 0 16 0a8 8 0 1 0 -16 0ZM283.9 294.1a8 8 0 1 0 16 0a8 8 0 1 0 -16 0ZM293.0 286.0a8 8 0 1 0 16 0a8 8 0 1 0 -16 0ZM306.4 287.9a8 8 0 1 0 16 0a8 8 0 1 0 -16 0ZM312.7 293.6a8 8 0 1 0 16 0a8 8 0 1 0 -16 0ZM323.5 296.1a8 8 0 1 0 16 0a8 8 0 1 0 -16 0ZM332.3 299.2a8 8 0 1 0 16 0a8 8 0 1 0 -16 0ZM339.0 307.8a8 8 0 1 0 16 0a8 8 0 1 0 -16 0ZM348.3 310.4a8 8 0 1 0 16 0a8 8 0 1 0 -16 0ZM361.2 315.3a8 8 0 1 0 16 0a8 8 0 1 0 -16 0ZM368.8 322.7a8 8 0 1 0 16 0a8 8 0 1 0 -16 0ZM370.8 335.0a8 8 0 1 0 16 0a8 8 0 1 0 -16 0ZM365.4 343.1a8 8 0 1 0 16 0a8 8 0 1 0 -16 0ZM356.3 344.0a8 8 0 1 0 16 0a8 8 0 1 0 -16 0ZM344.2 340.9a8 8 0 1 0 16 0a8 8 0 1 0 -16 0ZM332.0 337.1a8 8 0 1 0 16 0a8 8 0 1 0 -16 0ZM321.7 335.7a8 8 0 1 0 16 0a8 8 0 1 0 -16 0ZM312.5 335.5a8 8 0 1 0 16 0a8 8 0 1 0 -16 0ZM302.7 333.4a8 8 0 1 0 16 0a8 8 0 1 0 -16 0ZM294.8 327.8a8 8 0 1 0 16 0a8 8 0 1 0 -16 0ZM284.8 320.3a8 8 0 1 0 16 0a8 8 0 1 0 -16 0ZM274.7 320.5a8 8 0 1 0 16 0a8 8 0 1 0 -16 0ZM265.8 313.7a8 8 0 1 0 16 0a8 8 0 1 0 -16 0ZM257.4 309.6a8 8 0 1 0 16 0a8 8 0 1 0 -16 0ZM245.6 309.3a8 8 0 1 0 16 0a8 8 0 1 0 -16 0ZM236.5 308.4a8 8 0 1 0 16 0a8 8 0 1 0 -16 0ZM224.2 309.0a8 8 0 1 0 16 0a8 8 0 1 0 -16 0ZM214.4 307.9a8 8 0 1 0 16 0a8 8 0 1 0 -16 0ZM221.8 312.1a8 8 0 1 0 16 0a8 8 0 1 0 -16 0ZM229.1 318.5a8 8 0 1 0 16 0a8 8 0 1 0 -16 0ZM235.9 326.2a8 8 0 1 0 16 0a8 8 0 1 0 -16 0ZM247.8 330.3a8 8 0 1 0 16 0a8 8 0 1 0 -16 0ZM255.9 338.4a8 8 0 1 0 16 0a8 8 0 1 0 -16 0ZM263.6 346.3a8 8 0 1 0 16 0a8 8 0 1 0 -16 0ZM272.3 350.8a8 8 0 1 0 16 0a8 8 0 1 0 -16 0ZM285.2 349.2a8 8 0 1 0 16 0a8 8 0 1 0 -16 0ZM295.9 353.7a8 8 0 1 0 16 0a8 8 0 1 0 -16 0ZM308.5 350.2a8 8 0 1 0 16 0a8 8 0 1 0 -16 0ZM318.9 350.1a8 8 0 1 0 16 0a8 8 0 1 0 -16 0ZM327.0 354.9a8 8 0 1 0 16 0a8 8 0 1 0 -16 0ZM334.2 363.2a8 8 0 1 0 16 0a8 8 0 1 0 -16 0ZM342.0 365.5a8 8 0 1 0 16 0a8 8 0 1 0 -16 0ZM354.0 367.8a8 8 0 1 0 16 0a8 8 0 1 0 -16 0ZM362.9 373.1a8 8 0 1 0 16 0a8 8 0 1 0 -16 0ZM366.7 379.7a8 8 0 1 0 16 0a8 8 0 1 0 -16 0ZM375.6 386.4a8 8 0 1 0 16 0a8 8 0 1 0 -16 0ZM374.7 395.9a8 8 0 1 0 16 0a8 8 0 1 0 -16 0ZM366.5 403.2a8 8 0 1 0 16 0a8 8 0 1 0 -16 0ZM357.6 405.1a8 8 0 1 0 16 0a8 8 0 1 0 -16 0ZM348.5 403.5a8 8 0 1 0 16 0a8 8 0 1 0 -16 0ZM342.2 395.3a8 8 0 1 0 16 0a8 8 0 1 0 -16 0ZM332.3 396.2a8 8 0 1 0 16 0a8 8 0 1 0 -16 0ZM323.3 394.1a8 8 0 1 0 16 0a8 8 0 1 0 -16 0ZM310.1 395.1a8 8 0 1 0 16 0a8 8 0 1 0 -16 0ZM301.9 397.7a8 8 0 1 0 16 0a8 8 0 1 0 -16 0ZM288.4 401.0a8 8 0 1 0 16 0a8 8 0 1 0 -16 0ZM279.1 401.7a8 8 0 1 0 16 0a8 8 0 1 0 -16 0ZM269.3 402.8a8 8 0 1 0 16 0a8 8 0 1 0 -16 0ZM262.3 397.0a8 8 0 1 0 16 0a8 8 0 1 0 -16 0ZM251.7 388.0a8 8 0 1 0 16 0a8 8 0 1 0 -16 0ZM240.2 386.6a8 8 0 1 0 16 0a8 8 0 1 0 -16 0ZM232.1 389.6a8 8 0 1 0 16 0a8 8 0 1 0 -16 0ZM219.3 390.8a8 8 0 1 0 16 0a8 8 0 1 0 -16 0ZM212.0 384.5a8 8 0 1 0 16 0a8 8 0 1 0 -16 0ZM206.8 386.0a8 8 0 1 0 16 0a8 8 0 1 0 -16 0ZM792.4 395.5a8 8 0 1 0 16 0a8 8 0 1 0 -16 0ZM787.9 385.8a8 8 0 1 0 16 0a8 8 0 1 0 -16 0ZM793.6 374.2a8 8 0 1 0 16 0a8 8 0 1 0 -16 0ZM803.3 369.2a8 8 0 1 0 16 0a8 8 0 1 0 -16 0ZM813.9 371.1a8 8 0 1 0 16 0a8 8 0 1 0 -16 0ZM821.8 379.0a8 8 0 1 0 16 0a8 8 0 1 0 -16 0ZM819.5 389.4a8 8 0 1 0 16 0a8 8 0 1 0 -16 0ZM811.9 398.0a8 8 0 1 0 16 0a8 8 0 1 0 -16 0ZM803.8 400.1a8 8 0 1 0 16 0a8 8 0 1 0 -16 0ZM795.3 397.4a8 8 0 1 0 16 0a8 8 0 1 0 -16 0ZM789.5 369.2a8 8 0 1 0 16 0a8 8 0 1 0 -16 0ZM781.5 365.3a8 8 0 1 0 16 0a8 8 0 1 0 -16 0ZM779.7 355.2a8 8 0 1 0 16 0a8 8 0 1 0 -16 0ZM787.1 348.9a8 8 0 1 0 16 0a8 8 0 1 0 -16 0ZM799.6 346.4a8 8 0 1 0 16 0a8 8 0 1 0 -16 0ZM805.6 356.9a8 8 0 1 0 16 0a8 8 0 1 0 -16 0ZM805.2 365.8a8 8 0 1 0 16 0a8 8 0 1 0 -16 0ZM794.6 369.1a8 8 0 1 0 16 0a8 8 0 1 0 -16 0ZM749.6 407.4a8 8 0 1 0 16 0a8 8 0 1 0 -16 0ZM748.1 398.5a8 8 0 1 0 16 0a8 8 0 1 0 -16 0ZM752.8 391.6a8 8 0 1 0 16 0a8 8 0 1 0 -16 0ZM762.7 388.6a8 8 0 1 0 16 0a8 8 0 1 0 -16 0ZM771.2 390.1a8 8 0 1 0 16 0a8 8 0 1 0 -16 0ZM784.0 390.6a8 8 0 1 0 16 0a8 8 0 1 0 -16 0ZM790.3 398.9a8 8 0 1 0 16 0a8 8 0 1 0 -16 0ZM790.0 409.8a8 8 0 1 0 16 0a8 8 0 1 0 -16 0ZM782.5 415.1a8 8 0 1 0 16 0a8 8 0 1 0 -16 0ZM769.3 414.3a8 8 0 1 0 16 0a8 8 0 1 0 -16 0ZM761.6 412.9a8 8 0 1 0 16 0a8 8 0 1 0 -16 0ZM751.6 410.3a8 8 0 1 0 16 0a8 8 0 1 0 -16 0ZM708.1 478.5a8 8 0 1 0 16 0a8 8 0 1 0 -16 0ZM706.2 468.0a8 8 0 1 0 16 0a8 8 0 1 0 -16 0ZM714.8 460.1a8 8 0 1 0 16 0a8 8 0 1 0 -16 0ZM724.8 460.7a8 8 0 1 0 16 0a8 8 0 1 0 -16 0ZM731.5 466.1a8 8 0 1 0 16 0a8 8 0 1 0 -16 0ZM734.6 474.6a8 8 0 1 0 16 0a8 8 0 1 0 -16 0ZM744.5 470.9a8 8 0 1 0 16 0a8 8 0 1 0 -16 0ZM751.4 476.6a8 8 0 1 0 16 0a8 8 0 1 0 -16 0ZM762.0 480.3a8 8 0 1 0 16 0a8 8 0 1 0 -16 0ZM767.5 486.4a8 8 0 1 0 16 0a8 8 0 1 0 -16 0ZM767.3 494.3a8 8 0 1 0 16 0a8 8 0 1 0 -16 0ZM766.6 499.7a8 8 0 1 0 16 0a8 8 0 1 0 -16 0ZM778.2 500.8a8 8 0 1 0 16 0a8 8 0 1 0 -16 0ZM784.2 509.8a8 8 0 1 0 16 0a8 8 0 1 0 -16 0ZM786.5 522.3a8 8 0 1 0 16 0a8 8 0 1 0 -16 0ZM784.4 531.9a8 8 0 1 0 16 0a8 8 0 1 0 -16 0ZM772.6 534.3a8 8 0 1 0 16 0a8 8 0 1 0 -16 0ZM766.4 530.0a8 8 0 1 0 16 0a8 8 0 1 0 -16 0ZM758.4 523.7a8 8 0 1 0 16 0a8 8 0 1 0 -16 0ZM754.5 511.5a8 8 0 1 0 16 0a8 8 0 1 0 -16 0ZM743.9 508.6a8 8 0 1 0 16 0a8 8 0 1 0 -16 0ZM738.4 515.7a8 8 0 1 0 16 0a8 8 0 1 0 -16 0ZM726.3 515.7a8 8 0 1 0 16 0a8 8 0 1 0 -16 0ZM715.7 508.4a8 8 0 1 0 16 0a8 8 0 1 0 -16 0ZM713.8 498.2a8 8 0 1 0 16 0a8 8 0 1 0 -16 0ZM718.0 486.7a8 8 0 1 0 16 0a8 8 0 1 0 -16 0ZM726.3 483.3a8 8 0 1 0 16 0a8 8 0 1 0 -16 0ZM715.8 481.8a8 8 0 1 0 16 0a8 8 0 1 0 -16 0ZM698.3 364.8a8 8 0 1 0 16 0a8 8 0 1 0 -16 0ZM705.1 356.4a8 8 0 1 0 16 0a8 8 0 1 0 -16 0ZM713.9 358.8a8 8 0 1 0 16 0a8 8 0 1 0 -16 0ZM719.8 370.6a8 8 0 1 0 16 0a8 8 0 1 0 -16 0ZM712.1 379.1a8 8 0 1 0 16 0a8 8 0 1 0 -16 0ZM702.9 377.6a8 8 0 1 0 16 0a8 8 0 1 0 -16 0ZM698.2 370.1a8 8 0 1 0 16 0a8 8 0 1 0 -16 0ZM638.8 301.5a8 8 0 1 0 16 0a8 8 0 1 0 -16 0ZM641.7 293.6a8 8 0 1 0 16 0a8 8 0 1 0 -16 0ZM651.6 289.3a8 8 0 1 0 16 0a8 8 0 1 0 -16 0ZM660.8 293.2a8 8 0 1 0 16 0a8 8 0 1 0 -16 0ZM671.5 298.8a8 8 0 1 0 16 0a8 8 0 1 0 -16 0ZM670.5 311.5a8 8 0 1 0 16 0a8 8 0 1 0 -16 0ZM660.7 314.7a8 8 0 1 0 16 0a8 8 0 1 0 -16 0ZM648.6 310.6a8 8 0 1 0 16 0a8 8 0 1 0 -16 0ZM619.4 302.6a8 8 0 1 0 16 0a8 8 0 1 0 -16 0ZM611.5 296.6a8 8 0 1 0 16 0a8 8 0 1 0 -16 0ZM612.2 284.2a8 8 0 1 0 16 0a8 8 0 1 0 -16 0ZM617.4 279.2a8 8 0 1 0 16 0a8 8 0 1 0 -16 0ZM629.7 280.2a8 8 0 1 0 16 0a8 8 0 1 0 -16 0ZM634.0 286.7a8 8 0 1 0 16 0a8 8 0 1 0 -16 0ZM630.6 299.4a8 8 0 1 0 16 0a8 8 0 1 0 -16 0ZM489.1 452.7a8 8 0 1 0 16 0a8 8 0 1 0 -16 0ZM481.3 457.2a8 8 0 1 0 16 0a8 8 0 1 0 -16 0ZM474.2 458.0a8 8 0 1 0 16 0a8 8 0 1 0 -16 0ZM468.5 448.2a8 8 0 1 0 16 0a8 8 0 1 0 -16 0ZM470.3 437.8a8 8 0 1 0 16 0a8 8 0 1 0 -16 0ZM481.5 434.7a8 8 0 1 0 16 0a8 8 0 1 0 -16 0ZM489.0 441.0a8 8 0 1 0 16 0a8 8 0 1 0 -16 0ZM391.3 341.1a8 8 0 1 0 16 0a8 8 0 1 0 -16 0ZM393.4 329.8a8 8 0 1 0 16 0a8 8 0 1 0 -16 0ZM403.3 325.9a8 8 0 1 0 16 0a8 8 0 1 0 -16 0ZM413.9 331.0a8 8 0 1 0 16 0a8 8 0 1 0 -16 0ZM422.9 337.5a8 8 0 1 0 16 0a8 8 0 1 0 -16 0ZM420.2 350.6a8 8 0 1 0 16 0a8 8 0 1 0 -16 0ZM412.0 353.9a8 8 0 1 0 16 0a8 8 0 1 0 -16 0ZM402.2 351.1a8 8 0 1 0 16 0a8 8 0 1 0 -16 0Z"/>
</g>
<g fill="#ff0000" stroke="#000" stroke-width="3.4">
<circle cx="276.2" cy="251.3" r="11.9"/>
<circle cx="265.2" cy="323.5" r="11.9"/>
<circle cx="437.9" cy="297.9" r="11.9"/>
<circle cx="468.2" cy="306.3" r="11.9"/>
<circle cx="499.0" cy="330.3" r="11.9"/>
<circle cx="521.6" cy="346.9" r="11.9"/>
<circle cx="555.5" cy="338.9" r="11.9"/>
<circle cx="748.4" cy="257.9" r="11.9"/>
<circle cx="764.6" cy="264.0" r="11.9"/>
<circle cx="787.7" cy="288.5" r="11.9"/>
<circle cx="805.5" cy="293.4" r="11.9"/>
<circle cx="807.1" cy="275.6" r="11.9"/>
<circle cx="825.6" cy="285.3" r="11.9"/>
<circle cx="823.2" cy="295.8" r="11.9"/>
<circle cx="797.4" cy="308.7" r="11.9"/>
<circle cx="824.0" cy="320.8" r="11.9"/>
<circle cx="850.6" cy="296.6" r="11.9"/>
<circle cx="847.4" cy="309.5" r="11.9"/>
<circle cx="865.2" cy="294.2" r="11.9"/>
<circle cx="862.7" cy="324.0" r="11.9"/>
<circle cx="882.1" cy="311.1" r="11.9"/>
<circle cx="905.5" cy="304.7" r="11.9"/>
<circle cx="901.5" cy="316.8" r="11.9"/>
<circle cx="352.5" cy="456.9" r="11.9"/>
<circle cx="278.2" cy="417.7" r="11.9"/>
<circle cx="287.9" cy="421.0" r="11.9"/>
<circle cx="296.0" cy="422.6" r="11.9"/>
<circle cx="279.8" cy="427.4" r="11.9"/>
<circle cx="286.3" cy="433.9" r="11.9"/>
<circle cx="278.2" cy="440.3" r="11.9"/>
<circle cx="284.7" cy="445.2" r="11.9"/>
<circle cx="291.1" cy="441.9" r="11.9"/>
<circle cx="297.6" cy="433.9" r="11.9"/>
<circle cx="305.6" cy="430.6" r="11.9"/>
<circle cx="313.7" cy="432.3" r="11.9"/>
<circle cx="310.5" cy="437.1" r="11.9"/>
<circle cx="267.7" cy="421.0" r="11.9"/>
<circle cx="197.6" cy="374.2" r="11.9"/>
<circle cx="202.4" cy="379.8" r="11.9"/>
<circle cx="207.3" cy="385.5" r="11.9"/>
<circle cx="211.3" cy="391.1" r="11.9"/>
<circle cx="215.3" cy="396.8" r="11.9"/>
<circle cx="219.4" cy="401.6" r="11.9"/>
<circle cx="223.4" cy="407.3" r="11.9"/>
<circle cx="226.6" cy="412.1" r="11.9"/>
<circle cx="229.8" cy="415.3" r="11.9"/>
<circle cx="245.2" cy="403.2" r="11.9"/>
<circle cx="261.3" cy="406.5" r="11.9"/>
<circle cx="249.2" cy="423.4" r="11.9"/>
<circle cx="225.3" cy="455.8" r="11.9"/>
<circle cx="228.2" cy="478.1" r="11.9"/>
<circle cx="242.7" cy="484.5" r="11.9"/>
<circle cx="247.6" cy="491.0" r="11.9"/>
<circle cx="252.4" cy="497.4" r="11.9"/>
<circle cx="247.6" cy="503.9" r="11.9"/>
<circle cx="255.6" cy="502.3" r="11.9"/>
<circle cx="262.1" cy="484.5" r="11.9"/>
<circle cx="266.9" cy="489.4" r="11.9"/>
<circle cx="262.1" cy="494.2" r="11.9"/>
<circle cx="445.2" cy="442.8" r="11.9"/>
<circle cx="408.3" cy="472.1" r="11.9"/>
<circle cx="433.5" cy="492.2" r="11.9"/>
<circle cx="505.1" cy="531.5" r="11.9"/>
<circle cx="520.2" cy="527.5" r="11.9"/>
<circle cx="479.9" cy="467.0" r="11.9"/>
<circle cx="513.5" cy="466.6" r="11.9"/>
<circle cx="410.3" cy="511.4" r="11.9"/>
<circle cx="436.9" cy="520.0" r="11.9"/>
<circle cx="522.2" cy="518.4" r="11.9"/>
<circle cx="568.4" cy="428.7" r="11.9"/>
<circle cx="552.7" cy="538.5" r="11.9"/>
<circle cx="625.0" cy="432.7" r="11.9"/>
<circle cx="693.0" cy="508.3" r="11.9"/>
<circle cx="730.3" cy="422.3" r="11.9"/>
<circle cx="746.8" cy="443.2" r="11.9"/>
<circle cx="858.7" cy="445.8" r="11.9"/>
<circle cx="834.5" cy="467.4" r="11.9"/>
<circle cx="850.6" cy="503.7" r="11.9"/>
<circle cx="838.5" cy="503.3" r="11.9"/>
<circle cx="812.3" cy="525.1" r="11.9"/>
<circle cx="831.1" cy="364.6" r="11.9"/>
<circle cx="787.7" cy="461.4" r="11.9"/>
<circle cx="891.6" cy="455.5" r="11.9"/>
<circle cx="869.8" cy="474.7" r="11.9"/>
<circle cx="879.9" cy="482.1" r="11.9"/>
<circle cx="488.6" cy="555.0" r="11.9"/>
<circle cx="511.5" cy="558.1" r="11.9"/>
<circle cx="473.1" cy="582.5" r="11.9"/>
<circle cx="550.7" cy="575.4" r="11.9"/>
<circle cx="565.1" cy="584.3" r="11.9"/>
<circle cx="515.2" cy="581.7" r="11.9"/>
<circle cx="550.0" cy="542.1" r="11.9"/>
<circle cx="568.9" cy="546.6" r="11.9"/>
<circle cx="594.4" cy="549.9" r="11.9"/>
<circle cx="616.5" cy="535.5" r="11.9"/>
<circle cx="602.1" cy="533.3" r="11.9"/>
<circle cx="630.9" cy="547.7" r="11.9"/>
<circle cx="660.9" cy="544.4" r="11.9"/>
<circle cx="646.5" cy="535.5" r="11.9"/>
<circle cx="638.7" cy="574.3" r="11.9"/>
<circle cx="647.6" cy="557.7" r="11.9"/>
<circle cx="674.2" cy="571.0" r="11.9"/>
<circle cx="696.4" cy="577.6" r="11.9"/>
<circle cx="730.7" cy="582.1" r="11.9"/>
<circle cx="714.1" cy="595.4" r="11.9"/>
<circle cx="747.4" cy="593.1" r="11.9"/>
<circle cx="731.9" cy="590.9" r="11.9"/>
<circle cx="745.2" cy="606.5" r="11.9"/>
<circle cx="766.2" cy="598.7" r="11.9"/>
<circle cx="605.0" cy="594.3" r="11.9"/>
<circle cx="618.8" cy="609.8" r="11.9"/>
<circle cx="615.4" cy="619.8" r="11.9"/>
<circle cx="647.6" cy="645.3" r="11.9"/>
<circle cx="663.1" cy="643.0" r="11.9"/>
<circle cx="578.4" cy="522.2" r="11.9"/>
<circle cx="728.1" cy="558.8" r="11.9"/>
<circle cx="765.1" cy="620.9" r="11.9"/>
<circle cx="584.4" cy="610.9" r="11.9"/>
<circle cx="649.8" cy="592.7" r="11.9"/>
</g>
<path fill="#ffa500" stroke="#ffa500" stroke-width="4.2" stroke-linejoin="round" d="M276.2 243.7 278.2 248.6 283.5 248.9 279.4 252.3 280.7 257.4 276.2 254.6 271.8 257.4 273.1 252.3 269.0 248.9 274.3 248.6ZM265.2 315.9 267.1 320.8 272.4 321.1 268.3 324.5 269.6 329.6 265.2 326.8 260.7 329.6 262.0 324.5 257.9 321.1 263.2 320.8ZM437.9 290.3 439.9 295.2 445.2 295.5 441.1 298.9 442.4 304.0 437.9 301.2 433.5 304.0 434.8 298.9 430.7 295.5 436.0 295.2ZM468.2 298.7 470.1 303.7 475.4 304.0 471.3 307.4 472.7 312.5 468.2 309.6 463.7 312.5 465.0 307.4 461.0 304.0 466.2 303.7ZM499.0 322.7 501.0 327.7 506.3 328.0 502.2 331.3 503.5 336.5 499.0 333.6 494.6 336.5 495.9 331.3 491.8 328.0 497.1 327.7ZM521.6 339.3 523.6 344.3 528.8 344.6 524.8 348.0 526.1 353.1 521.6 350.2 517.1 353.1 518.5 348.0 514.4 344.6 519.7 344.3ZM555.5 331.3 557.4 336.2 562.7 336.5 558.6 339.9 560.0 345.0 555.5 342.2 551.0 345.0 552.3 339.9 548.3 336.5 553.5 336.2ZM748.4 250.3 750.4 255.3 755.7 255.6 751.6 259.0 752.9 264.1 748.4 261.2 744.0 264.1 745.3 259.0 741.2 255.6 746.5 255.3ZM764.6 256.4 766.5 261.3 771.8 261.6 767.7 265.0 769.0 270.1 764.6 267.3 760.1 270.1 761.4 265.0 757.3 261.6 762.6 261.3ZM807.4 270.5 809.4 275.4 814.6 275.7 810.6 279.1 811.9 284.2 807.4 281.4 803.0 284.2 804.3 279.1 800.2 275.7 805.5 275.4ZM826.1 277.7 828.1 282.7 833.4 283.0 829.3 286.3 830.6 291.5 826.1 288.6 821.7 291.5 823.0 286.3 818.9 283.0 824.2 282.7ZM797.7 293.9 799.7 298.8 805.0 299.1 800.9 302.5 802.2 307.6 797.7 304.8 793.3 307.6 794.6 302.5 790.5 299.1 795.8 298.8ZM824.0 313.2 826.0 318.1 831.3 318.5 827.2 321.8 828.5 327.0 824.0 324.1 819.6 327.0 820.9 321.8 816.8 318.5 822.1 318.1ZM844.5 293.9 846.5 298.8 851.7 299.1 847.7 302.5 849.0 307.6 844.5 304.8 840.0 307.6 841.4 302.5 837.3 299.1 842.6 298.8ZM864.4 285.8 866.3 290.7 871.6 291.0 867.5 294.4 868.8 299.5 864.4 296.7 859.9 299.5 861.2 294.4 857.1 291.0 862.4 290.7ZM861.9 305.9 863.9 310.9 869.2 311.2 865.1 314.6 866.4 319.7 861.9 316.8 857.5 319.7 858.8 314.6 854.7 311.2 860.0 310.9ZM352.5 449.3 354.4 454.3 359.7 454.6 355.6 458.0 356.9 463.1 352.5 460.2 348.0 463.1 349.3 458.0 345.2 454.6 350.5 454.3ZM283.4 410.1 285.3 415.1 290.6 415.4 286.5 418.8 287.9 423.9 283.4 421.0 278.9 423.9 280.2 418.8 276.2 415.4 281.4 415.1ZM292.7 413.4 294.7 418.3 300.0 418.6 295.9 422.0 297.2 427.1 292.7 424.3 288.3 427.1 289.6 422.0 285.5 418.6 290.8 418.3ZM299.2 415.8 301.1 420.7 306.4 421.0 302.3 424.4 303.7 429.5 299.2 426.7 294.7 429.5 296.1 424.4 292.0 421.0 297.3 420.7ZM284.0 419.8 286.0 424.7 291.3 425.1 287.2 428.4 288.5 433.6 284.0 430.7 279.6 433.6 280.9 428.4 276.8 425.1 282.1 424.7ZM287.9 426.3 289.8 431.2 295.1 431.5 291.0 434.9 292.4 440.0 287.9 437.2 283.4 440.0 284.8 434.9 280.7 431.5 286.0 431.2ZM280.6 433.5 282.6 438.5 287.9 438.8 283.8 442.1 285.1 447.3 280.6 444.4 276.2 447.3 277.5 442.1 273.4 438.8 278.7 438.5ZM286.3 437.6 288.2 442.5 293.5 442.8 289.4 446.2 290.8 451.3 286.3 448.5 281.8 451.3 283.2 446.2 279.1 442.8 284.4 442.5ZM292.7 434.3 294.7 439.3 300.0 439.6 295.9 443.0 297.2 448.1 292.7 445.2 288.3 448.1 289.6 443.0 285.5 439.6 290.8 439.3ZM299.2 426.3 301.1 431.2 306.4 431.5 302.3 434.9 303.7 440.0 299.2 437.2 294.7 440.0 296.1 434.9 292.0 431.5 297.3 431.2ZM305.6 423.0 307.6 428.0 312.9 428.3 308.8 431.7 310.1 436.8 305.6 433.9 301.2 436.8 302.5 431.7 298.4 428.3 303.7 428.0ZM313.7 424.7 315.6 429.6 320.9 429.9 316.8 433.3 318.2 438.4 313.7 435.6 309.2 438.4 310.6 433.3 306.5 429.9 311.8 429.6ZM310.5 429.5 312.4 434.4 317.7 434.7 313.6 438.1 315.0 443.2 310.5 440.4 306.0 443.2 307.3 438.1 303.3 434.7 308.5 434.4ZM281.5 427.1 283.4 432.0 288.7 432.3 284.6 435.7 285.9 440.8 281.5 438.0 277.0 440.8 278.3 435.7 274.2 432.3 279.5 432.0ZM197.6 366.6 199.5 371.5 204.8 371.8 200.7 375.2 202.0 380.3 197.6 377.5 193.1 380.3 194.4 375.2 190.4 371.8 195.6 371.5ZM202.4 372.2 204.4 377.2 209.6 377.5 205.6 380.9 206.9 386.0 202.4 383.1 198.0 386.0 199.3 380.9 195.2 377.5 200.5 377.2ZM207.3 377.9 209.2 382.8 214.5 383.1 210.4 386.5 211.7 391.6 207.3 388.8 202.8 391.6 204.1 386.5 200.0 383.1 205.3 382.8ZM211.3 383.5 213.2 388.5 218.5 388.8 214.4 392.1 215.8 397.3 211.3 394.4 206.8 397.3 208.2 392.1 204.1 388.8 209.4 388.5ZM215.3 389.2 217.3 394.1 222.6 394.4 218.5 397.8 219.8 402.9 215.3 400.1 210.9 402.9 212.2 397.8 208.1 394.4 213.4 394.1ZM219.4 394.0 221.3 398.9 226.6 399.3 222.5 402.6 223.8 407.8 219.4 404.9 214.9 407.8 216.2 402.6 212.1 399.3 217.4 398.9ZM223.4 399.7 225.3 404.6 230.6 404.9 226.5 408.3 227.9 413.4 223.4 410.6 218.9 413.4 220.2 408.3 216.2 404.9 221.4 404.6ZM226.6 404.5 228.6 409.4 233.8 409.7 229.8 413.1 231.1 418.2 226.6 415.4 222.1 418.2 223.5 413.1 219.4 409.7 224.7 409.4ZM229.8 407.7 231.8 412.7 237.1 413.0 233.0 416.3 234.3 421.5 229.8 418.6 225.4 421.5 226.7 416.3 222.6 413.0 227.9 412.7ZM245.2 395.6 247.1 400.6 252.4 400.9 248.3 404.2 249.6 409.4 245.2 406.5 240.7 409.4 242.0 404.2 237.9 400.9 243.2 400.6ZM261.3 398.9 263.2 403.8 268.5 404.1 264.4 407.5 265.8 412.6 261.3 409.8 256.8 412.6 258.2 407.5 254.1 404.1 259.4 403.8ZM249.2 415.8 251.1 420.7 256.4 421.0 252.3 424.4 253.7 429.5 249.2 426.7 244.7 429.5 246.1 424.4 242.0 421.0 247.3 420.7ZM225.3 448.2 227.3 453.1 232.6 453.5 228.5 456.8 229.8 462.0 225.3 459.1 220.9 462.0 222.2 456.8 218.1 453.5 223.4 453.1ZM228.2 470.5 230.2 475.4 235.5 475.7 231.4 479.1 232.7 484.2 228.2 481.4 223.8 484.2 225.1 479.1 221.0 475.7 226.3 475.4ZM242.7 476.9 244.7 481.8 250.0 482.2 245.9 485.5 247.2 490.7 242.7 487.8 238.3 490.7 239.6 485.5 235.5 482.2 240.8 481.8ZM247.6 483.4 249.5 488.3 254.8 488.6 250.7 492.0 252.0 497.1 247.6 494.3 243.1 497.1 244.4 492.0 240.4 488.6 245.6 488.3ZM252.4 489.8 254.4 494.7 259.6 495.1 255.6 498.4 256.9 503.6 252.4 500.7 248.0 503.6 249.3 498.4 245.2 495.1 250.5 494.7ZM247.6 496.3 249.5 501.2 254.8 501.5 250.7 504.9 252.0 510.0 247.6 507.2 243.1 510.0 244.4 504.9 240.4 501.5 245.6 501.2ZM255.6 494.7 257.6 499.6 262.9 499.9 258.8 503.3 260.1 508.4 255.6 505.6 251.2 508.4 252.5 503.3 248.4 499.9 253.7 499.6ZM262.1 476.9 264.0 481.8 269.3 482.2 265.2 485.5 266.6 490.7 262.1 487.8 257.6 490.7 259.0 485.5 254.9 482.2 260.2 481.8ZM266.9 481.8 268.9 486.7 274.2 487.0 270.1 490.4 271.4 495.5 266.9 492.7 262.5 495.5 263.8 490.4 259.7 487.0 265.0 486.7ZM262.1 486.6 264.0 491.5 269.3 491.8 265.2 495.2 266.6 500.3 262.1 497.5 257.6 500.3 259.0 495.2 254.9 491.8 260.2 491.5ZM479.9 459.4 481.8 464.3 487.1 464.7 483.0 468.0 484.3 473.2 479.9 470.3 475.4 473.2 476.7 468.0 472.7 464.7 477.9 464.3ZM513.5 459.0 515.5 463.9 520.8 464.3 516.7 467.6 518.0 472.8 513.5 469.9 509.1 472.8 510.4 467.6 506.3 464.3 511.6 463.9ZM410.3 503.8 412.3 508.7 417.6 509.0 413.5 512.4 414.8 517.5 410.3 514.7 405.9 517.5 407.2 512.4 403.1 509.0 408.4 508.7ZM436.9 512.4 438.9 517.4 444.2 517.7 440.1 521.1 441.4 526.2 436.9 523.3 432.5 526.2 433.8 521.1 429.7 517.7 435.0 517.4ZM522.2 510.8 524.2 515.8 529.4 516.1 525.4 519.4 526.7 524.6 522.2 521.7 517.8 524.6 519.1 519.4 515.0 516.1 520.3 515.8ZM568.4 421.1 570.3 426.0 575.6 426.4 571.5 429.7 572.9 434.8 568.4 432.0 563.9 434.8 565.3 429.7 561.2 426.4 566.5 426.0ZM552.7 530.9 554.6 535.8 559.9 536.2 555.8 539.5 557.2 544.6 552.7 541.8 548.2 544.6 549.6 539.5 545.5 536.2 550.8 535.8ZM730.3 414.7 732.2 419.6 737.5 419.9 733.4 423.3 734.7 428.4 730.3 425.6 725.8 428.4 727.1 423.3 723.1 419.9 728.3 419.6ZM746.8 435.6 748.8 440.6 754.0 440.9 750.0 444.2 751.3 449.4 746.8 446.5 742.3 449.4 743.7 444.2 739.6 440.9 744.9 440.6ZM831.1 357.0 833.0 361.9 838.3 362.2 834.2 365.6 835.6 370.7 831.1 367.9 826.6 370.7 828.0 365.6 823.9 362.2 829.1 361.9ZM787.7 453.8 789.7 458.7 795.0 459.0 790.9 462.4 792.2 467.5 787.7 464.7 783.3 467.5 784.6 462.4 780.5 459.0 785.8 458.7ZM891.6 447.9 893.5 452.9 898.8 453.2 894.7 456.5 896.0 461.7 891.6 458.8 887.1 461.7 888.4 456.5 884.3 453.2 889.6 452.9ZM869.8 467.1 871.7 472.0 877.0 472.3 872.9 475.7 874.3 480.8 869.8 478.0 865.3 480.8 866.7 475.7 862.6 472.3 867.9 472.0ZM879.9 474.5 881.8 479.5 887.1 479.8 883.0 483.2 884.3 488.3 879.9 485.4 875.4 488.3 876.7 483.2 872.7 479.8 877.9 479.5ZM515.2 574.1 517.2 579.0 522.5 579.3 518.4 582.7 519.7 587.8 515.2 585.0 510.8 587.8 512.1 582.7 508.0 579.3 513.3 579.0ZM734.1 593.3 736.0 598.2 741.3 598.6 737.2 601.9 738.5 607.1 734.1 604.2 729.6 607.1 730.9 601.9 726.8 598.6 732.1 598.2ZM578.4 514.6 580.3 519.5 585.6 519.8 581.5 523.2 582.9 528.3 578.4 525.5 573.9 528.3 575.2 523.2 571.2 519.8 576.4 519.5ZM728.1 551.2 730.0 556.1 735.3 556.4 731.2 559.8 732.6 564.9 728.1 562.1 723.6 564.9 724.9 559.8 720.9 556.4 726.1 556.1ZM765.1 613.3 767.1 618.2 772.4 618.5 768.3 621.9 769.6 627.0 765.1 624.2 760.7 627.0 762.0 621.9 757.9 618.5 763.2 618.2ZM584.4 603.3 586.3 608.2 591.6 608.5 587.5 611.9 588.8 617.0 584.4 614.2 579.9 617.0 581.2 611.9 577.1 608.5 582.4 608.2ZM649.8 585.1 651.7 590.0 657.0 590.4 652.9 593.7 654.3 598.9 649.8 596.0 645.3 598.9 646.7 593.7 642.6 590.4 647.9 590.0Z"/>
<rect x="128.9" y="7.6" width="857.7" height="858.4" fill="none" stroke="#000" stroke-width="3"/>
<path d="M184.9 866.0 v13.5 M128.9 809.9 h-14 M371.3 866.0 v13.5 M128.9 623.2 h-14 M557.7 866.0 v13.5 M128.9 436.6 h-14 M744.1 866.0 v13.5 M128.9 250.0 h-14 M930.5 866.0 v13.5 M128.9 63.3 h-14" stroke="#000" stroke-width="2.8" fill="none"/>
<text transform="translate(183.9 927.2) scale(0.860 1)" font-size="47.5" text-anchor="middle">−2</text>
<text transform="translate(101.3 826.9) scale(0.860 1)" font-size="47.5" text-anchor="end">−2</text>
<text transform="translate(371.3 927.2) scale(0.860 1)" font-size="47.5" text-anchor="middle">−1</text>
<text transform="translate(101.3 640.2) scale(0.860 1)" font-size="47.5" text-anchor="end">−1</text>
<text transform="translate(557.7 927.2) scale(0.860 1)" font-size="47.5" text-anchor="middle">0</text>
<text transform="translate(101.3 453.6) scale(0.860 1)" font-size="47.5" text-anchor="end">0</text>
<text transform="translate(744.1 927.2) scale(0.860 1)" font-size="47.5" text-anchor="middle">1</text>
<text transform="translate(101.3 267.0) scale(0.860 1)" font-size="47.5" text-anchor="end">1</text>
<text transform="translate(930.5 927.2) scale(0.860 1)" font-size="47.5" text-anchor="middle">2</text>
<text transform="translate(101.3 80.3) scale(0.860 1)" font-size="47.5" text-anchor="end">2</text>
<text transform="translate(561.5 991.6) scale(0.839 1)" font-size="60.0" text-anchor="middle">Principal component 1</text>
<text transform="translate(44.8 437.2) rotate(-90) scale(0.849 1)" font-size="60.0" text-anchor="middle">Principal component 2</text>
<circle cx="167.9" cy="646.8" r="13.4" fill="#808080"/>
<ellipse cx="170.9" cy="714.4" rx="15.6" ry="14.5" fill="#ff0000" stroke="#000" stroke-width="3"/>
<path d="M174.4 768.4 L178.6 779.2 L190.2 779.9 L181.2 787.2 L184.2 798.4 L174.4 792.2 L164.6 798.4 L167.6 787.2 L158.6 779.9 L170.2 779.2Z" fill="#ffa500" stroke="#ffa500" stroke-width="5.5" stroke-linejoin="round"/>
<text transform="translate(208.2 663.0) scale(0.847 1)" font-size="43.0" text-anchor="start">Known polymers</text>
<text transform="translate(215.9 732.0) scale(0.850 1)" font-size="43.0" text-anchor="start">Updated diffusivity model (MT-PENN-2)</text>
<text transform="translate(215.8 798.5) scale(0.849 1)" font-size="43.0" text-anchor="start">Original diffusivity model (ST1-PENN-1)</text>
</svg></body></html>
